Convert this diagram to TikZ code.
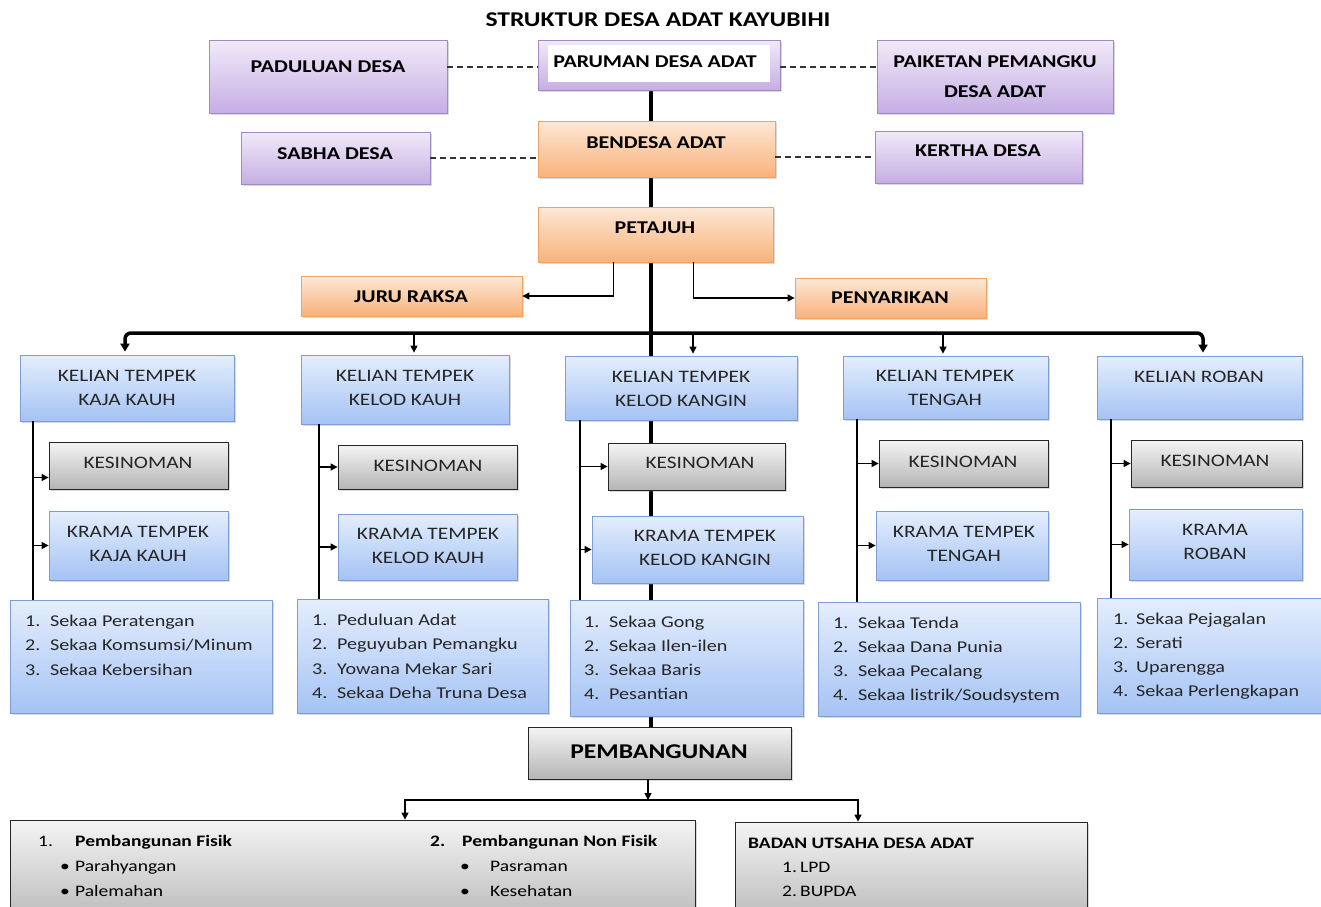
\documentclass[tikz,border=0pt]{standalone}
\usepackage{fontspec}
\setmainfont{Carlito}[FakeStretch=1.22]
\usetikzlibrary{arrows.meta,shadows,backgrounds,calc}
\definecolor{purT}{HTML}{F1EAF9}
\definecolor{purD}{HTML}{C6AEE4}
\definecolor{purB}{HTML}{A08CC0}
\definecolor{orT}{HTML}{FDE8D6}
\definecolor{orD}{HTML}{F8B27A}
\definecolor{orB}{HTML}{EEA466}
\definecolor{blT}{HTML}{E4EEFD}
\definecolor{blD}{HTML}{A5C3F4}
\definecolor{blB}{HTML}{7E9ED2}
\definecolor{grT}{HTML}{F4F4F4}
\definecolor{grD}{HTML}{B5B5B5}
\tikzset{
  shadowed/.style={drop shadow={shadow xshift=1.5pt,shadow yshift=-2pt,opacity=0.3}},
  basebox/.style={rectangle,inner sep=0pt,line width=0.8pt,shadowed},
  pbox/.style={basebox,draw=purB,top color=purT,bottom color=purD},
  obox/.style={basebox,draw=orB,top color=orT,bottom color=orD},
  bbox/.style={basebox,draw=blB,top color=blT,bottom color=blD},
  gbox/.style={basebox,draw=black!85,top color=grT,bottom color=grD},
  wbox/.style={rectangle,inner sep=0pt,draw=none,fill=white},
  lblB/.style={inner sep=0pt,font=\fontsize{18}{30}\selectfont\bfseries,align=center},
  lbl/.style={inner sep=0pt,font=\fontsize{17.5}{23.5}\selectfont,align=center,text=black!85},
  itm/.style={inner sep=0pt,font=\fontsize{16.5}{20}\selectfont,anchor=base west,text=black!85},
  btm/.style={inner sep=0pt,font=\fontsize{16}{20}\selectfont,anchor=base west},
  dsh/.style={line width=1.3pt,dash pattern=on 6pt off 4pt,black!80},
  spine/.style={line width=4pt},
  thinln/.style={line width=1.1pt},
  arr/.style={line width=1.2pt,-{Triangle[length=7pt,width=7pt]}},
  bigarr/.style={line width=3.5pt,rounded corners=6pt,{Triangle[length=8pt,width=9pt]}-{Triangle[length=8pt,width=9pt]}},
}
\newcommand\mybox[6]{\node[#2,minimum width={(#5)-(#3)},minimum height={(#6)-(#4)}] (#1) at ({((#3)+(#5))/2},{((#4)+(#6))/2}) {};}
\begin{document}
\begin{tikzpicture}[x=1pt,y=-1pt]
\useasboundingbox (0,0) rectangle (1321,906);
\clip (0,0) rectangle (1321,906);
% title
\node[inner sep=0pt,font=\fontsize{21}{24}\selectfont\bfseries] (title) at (658,20) {STRUKTUR DESA ADAT KAYUBIHI};
% top boxes
\mybox{padu}{pbox}{209}{40}{447}{113}
\node[lblB] (padu-t) at (328,67) {PADULUAN DESA};
\mybox{parum}{pbox}{538}{40}{780}{90}
\mybox{parumw}{wbox}{548}{45}{770}{82}
\node[lblB] (parum-t) at (655,62) {PARUMAN DESA ADAT};
\mybox{paik}{pbox}{877}{40}{1113}{113}
\node[lblB] (paik-t) at (995,77) {PAIKETAN PEMANGKU\\DESA ADAT};
\mybox{sabha}{pbox}{241}{132}{430}{184}
\node[lblB] (sabha-t) at (335,154) {SABHA DESA};
\mybox{bend}{obox}{538}{121}{775}{177}
\node[lblB] (bend-t) at (656,143) {BENDESA ADAT};
\mybox{kert}{pbox}{875}{131}{1082}{183}
\node[lblB] (kert-t) at (978,151) {KERTHA DESA};
\mybox{petaj}{obox}{538}{207}{773}{262}
\node[lblB] (petaj-t) at (655,228) {PETAJUH};
\mybox{juru}{obox}{301}{276}{522}{316}
\node[lblB] (juru-t) at (411,297) {JURU RAKSA};
\mybox{peny}{obox}{795}{278}{986}{318}
\node[lblB] (peny-t) at (890,298) {PENYARIKAN};
% dashed
\draw[dsh] (padu-t -| padu.east) -- (padu-t -| parum.west);
\draw[dsh] (padu-t -| parum.east) -- (padu-t -| paik.west);
\draw[dsh] (sabha.east) -- (sabha.east -| bend.west);
\draw[dsh] (kert.west -| bend.east) -- (kert.west);
% kelian
\mybox{k1}{bbox}{20}{355}{234}{421}
\node[lbl] (k1-t) at (127,388) {KELIAN TEMPEK\\KAJA KAUH};
\mybox{k2}{bbox}{301}{355}{509}{424}
\node[lbl] (k2-t) at (405,388) {KELIAN TEMPEK\\KELOD KAUH};
\mybox{k3}{bbox}{565}{356}{797}{420}
\node[lbl] (k3-t) at (681,389) {KELIAN TEMPEK\\KELOD KANGIN};
\mybox{k4}{bbox}{843}{356}{1048}{419}
\node[lbl] (k4-t) at (945,388) {KELIAN TEMPEK\\TENGAH};
\mybox{k5}{bbox}{1097}{356}{1302}{419}
\node[lbl] (k5-t) at (1199,377) {KELIAN ROBAN};
% kesinoman
\mybox{s1}{gbox}{49}{442}{228}{489}
\node[lbl] (s1-t) at (138,463) {KESINOMAN};
\mybox{s2}{gbox}{338}{445}{517}{489}
\node[lbl] (s2-t) at (428,466) {KESINOMAN};
\mybox{s3}{gbox}{608}{443}{785}{490}
\node[lbl] (s3-t) at (700,463) {KESINOMAN};
\mybox{s4}{gbox}{879}{440}{1048}{487}
\node[lbl] (s4-t) at (963,462) {KESINOMAN};
\mybox{s5}{gbox}{1131}{440}{1302}{487}
\node[lbl] (s5-t) at (1215,461) {KESINOMAN};
% krama
\mybox{r1}{bbox}{49}{511}{228}{580}
\node[lbl] (r1-t) at (138,544) {KRAMA TEMPEK\\KAJA KAUH};
\mybox{r2}{bbox}{338}{514}{517}{580}
\node[lbl] (r2-t) at (428,546) {KRAMA TEMPEK\\KELOD KAUH};
\mybox{r3}{bbox}{592}{516}{803}{583}
\node[lbl] (r3-t) at (705,548) {KRAMA TEMPEK\\KELOD KANGIN};
\mybox{r4}{bbox}{876}{511}{1048}{580}
\node[lbl] (r4-t) at (964,544) {KRAMA TEMPEK\\TENGAH};
\mybox{r5}{bbox}{1129}{509}{1302}{580}
\node[lbl] (r5-t) at (1215,542) {KRAMA\\ROBAN};
% lists
\mybox{l1}{bbox}{10}{600}{272}{713}
\foreach \t [count=\i] in {Sekaa Peratengan,Sekaa Komsumsi/Minum,Sekaa Kebersihan}
  \node[itm] (l1-\i) at (25,{626+(\i-1)*24.5}) {\makebox[25pt][l]{\i.}\t};
\mybox{l2}{bbox}{297}{599}{548}{713}
\foreach \t [count=\i] in {Peduluan Adat,Peguyuban Pemangku,Yowana Mekar Sari,Sekaa Deha Truna Desa}
  \node[itm] (l2-\i) at (312,{625+(\i-1)*24.5}) {\makebox[25pt][l]{\i.}\t};
\mybox{l3}{bbox}{570}{600}{803}{716}
\foreach \t [count=\i] in {Sekaa Gong,Sekaa Ilen-ilen,Sekaa Baris,Pesantian}
  \node[itm] (l3-\i) at (584,{627+(\i-1)*24.2}) {\makebox[25pt][l]{\i.}\t};
\mybox{l4}{bbox}{818}{602}{1080}{716}
\foreach \t [count=\i] in {Sekaa Tenda,Sekaa Dana Punia,Sekaa Pecalang,Sekaa listrik/Soudsystem}
  \node[itm] (l4-\i) at (833,{628+(\i-1)*24.3}) {\makebox[25pt][l]{\i.}\t};
\mybox{l5}{bbox}{1097}{598}{1321}{713}
\foreach \t [count=\i] in {Sekaa Pejagalan,Serati,Uparengga,Sekaa Perlengkapan}
  \node[itm] (l5-\i) at (1113,{624+(\i-1)*24.2}) {\makebox[23pt][l]{\i.}\t};
% pembangunan
\mybox{pemb}{gbox}{528}{727}{791}{779}
\node[inner sep=0pt,font=\fontsize{21}{24}\selectfont\bfseries] (pemb-t) at (659,752) {PEMBANGUNAN};
\mybox{b1}{gbox}{10}{820}{695}{930}
\mybox{b2}{gbox}{735}{822}{1087}{930}
\node[btm] (b1-n1) at (38,846) {1.};
\node[btm,font=\fontsize{16}{20}\selectfont\bfseries] (b1-h1) at (75,846) {Pembangunan Fisik};
\node[btm] (b1-a) at (60,871) {\makebox[15pt][l]{•}Parahyangan};
\node[btm] (b1-b) at (60,896) {\makebox[15pt][l]{•}Palemahan};
\node[btm,font=\fontsize{16}{20}\selectfont\bfseries] (b1-h2) at (430,846) {\makebox[32pt][l]{2.}Pembangunan Non Fisik};
\node[btm] (b1-c) at (460,871) {\makebox[30pt][l]{•}Pasraman};
\node[btm] (b1-d) at (460,896) {\makebox[30pt][l]{•}Kesehatan};
\node[btm,font=\fontsize{16}{20}\selectfont\bfseries] (b2-h) at (748,848) {BADAN UTSAHA DESA ADAT};
\node[btm] (b2-a) at (782,872) {\makebox[18pt][l]{1.}LPD};
\node[btm] (b2-b) at (782,896) {\makebox[18pt][l]{2.}BUPDA};
% coordinates
\coordinate (sp) at (651,0);
\coordinate (sp2) at (648,0);
\coordinate (barR) at (1203,333);
\coordinate (c1) at (33,0);
\coordinate (c2) at (319,0);
\coordinate (c3) at (580,0);
\coordinate (c4) at (857,0);
\coordinate (c5) at (1111,0);
\coordinate (a2) at (414,335);
\coordinate (a3) at (693,335);
\coordinate (a4) at (943,335);
\coordinate (hb) at (648,800);
\coordinate (hbL) at (405,800);
\coordinate (hbR) at (858,800);
% spine behind
\begin{pgfonlayer}{background}
\draw[spine] (parum.south -| sp) -- (pemb.north -| sp);
\end{pgfonlayer}
% petajuh arrows
\draw[arr] ([xshift=-42pt]petaj.south) |- (juru.east);
\draw[arr] ([xshift=38pt]petaj.south) |- (peny.west);
% bar
\draw[bigarr] ([yshift=3pt]k1.north -| 125,0) |- (barR) -- ([yshift=3pt]k5.north -| barR);
\draw[arr] (a2) -- ([yshift=2pt]k2.north -| a2);
\draw[arr] (a3) -- ([yshift=2pt]k3.north -| a3);
\draw[arr] (a4) -- ([yshift=2pt]k4.north -| a4);
% column side lines
\draw[thinln] (k1.south -| c1) -- (l1.north -| c1);
\draw[arr] ([yshift=-12pt]s1.west -| c1) -- ([yshift=-12pt]s1.west);
\draw[arr] (r1.west -| c1) -- (r1.west);
\draw[thinln] (k2.south -| c2) -- (l2.north -| c2);
\draw[arr] (s2.west -| c2) -- (s2.west);
\draw[arr] (r2.west -| c2) -- (r2.west);
\draw[thinln] (k3.south -| c3) -- (l3.north -| c3);
\draw[arr] (s3.west -| c3) -- (s3.west);
\draw[arr] (r3.west -| c3) -- (r3.west);
\draw[thinln] (k4.south -| c4) -- (l4.north -| c4);
\draw[arr] (s4.west -| c4) -- (s4.west);
\draw[arr] (r4.west -| c4) -- (r4.west);
\draw[thinln] (k5.south -| c5) -- (l5.north -| c5);
\draw[arr] (s5.west -| c5) -- (s5.west);
\draw[arr] (r5.west -| c5) -- (r5.west);
% pembangunan arrows
\draw[arr] (pemb.south -| sp2) -- (hb);
\draw[arr] (hb) -| (b1.north -| hbL);
\draw[arr] (hb) -| (b2.north -| hbR);
\end{tikzpicture}
\end{document}
